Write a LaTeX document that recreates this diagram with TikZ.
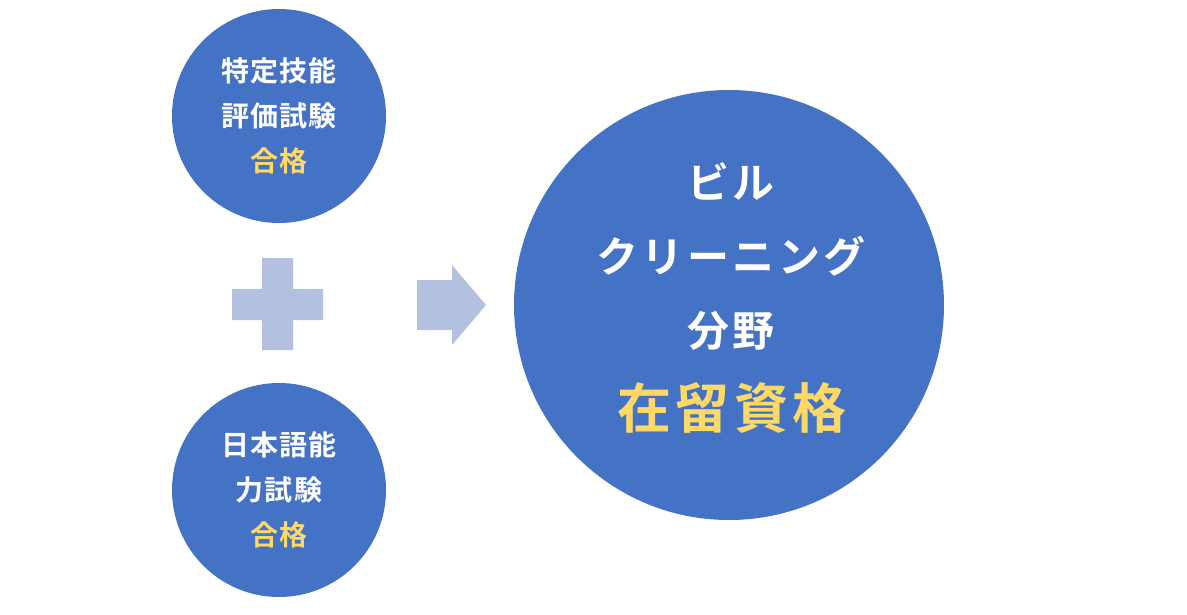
\documentclass[tikz,border=0pt]{standalone}
\usepackage{fontspec}
\setmainfont{Noto Sans CJK JP}[BoldFont={Noto Sans CJK JP Bold}]
\newfontfamily\spacedjp{Noto Sans CJK JP Bold}[LetterSpace=4]
\newfontfamily\widejp{Noto Sans CJK JP Bold}[LetterSpace=8]
\definecolor{circblue}{RGB}{68,114,196}
\definecolor{markblue}{RGB}{180,192,224}
\definecolor{passyellow}{RGB}{255,217,102}
\tikzset{every picture/.style={line width=0.75pt}}
\tikzset{
  exam/.style={circle,fill=circblue,minimum size=214pt,inner sep=0pt,text=white,
    font=\spacedjp\fontsize{28}{45}\selectfont,align=center},
  status/.style={circle,fill=circblue,minimum size=430pt,inner sep=0pt},
  symbol/.style={fill=markblue,draw=none}
}
\begin{document}
\begin{tikzpicture}[x=1pt,y=1pt,yscale=-1,xscale=1]
\useasboundingbox (0,0) rectangle (1187,614);

% exam circles
\node [exam] (skill) at (279,116) {特定技能\\評価試験\\\textcolor{passyellow}{合格}};
\node [exam] (lang) at (279,490) {日本語能\\力試験\\\textcolor{passyellow}{合格}};

% plus sign
\fill [symbol] (262,258) -- (293,258) -- (293,289) -- (323,289) -- (323,320) -- (293,320) -- (293,350) -- (262,350) -- (262,320) -- (232,320) -- (232,289) -- (262,289) -- cycle ;

% arrow
\fill [symbol] (417,280) -- (452,280) -- (452,265) -- (486,305) -- (452,345) -- (452,330) -- (417,330) -- cycle ;

% status circle
\node [status] (visa) at (729,305) {};
\node [text=white,font=\widejp\fontsize{42}{74}\selectfont,align=center] (field) at (731,257) {ビル\\クリーニング\\分野};
\node [text=passyellow,font=\widejp\fontsize{54}{54}\selectfont] (resid) at (732,408) {在留資格};

\end{tikzpicture}
\end{document}
